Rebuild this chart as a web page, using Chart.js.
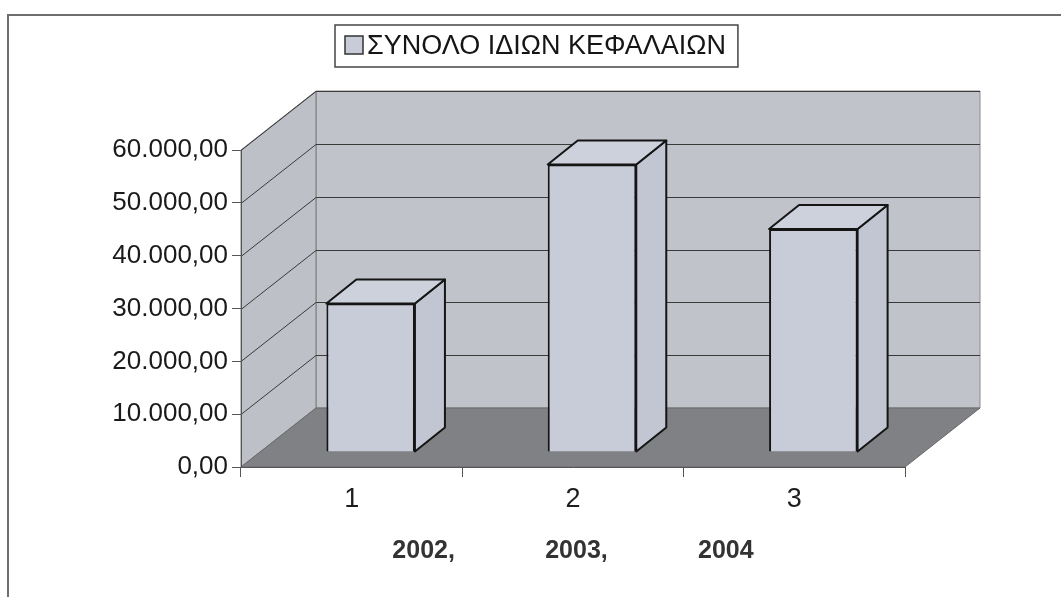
<!DOCTYPE html>
<html>
<head>
<meta charset="utf-8">
<script src="https://cdn.jsdelivr.net/npm/chart.js@4"></script>
<style>
html, body { margin: 0; padding: 0; background: #fff; }
</style>
</head>
<body>
<canvas id="chart" width="1061" height="597"></canvas>
<script>
// data
var categories = ['1', '2', '3'];
var values = [28100, 54400, 42200];
var yearLabels = ['2002,', '2003,', '2004'];
var seriesName = 'ΣΥΝΟΛΟ ΙΔΙΩΝ ΚΕΦΑΛΑΙΩΝ';

var FONT = "'Liberation Sans', Arial, sans-serif";
var DEPTH = { x: 75, y: -59 };       // depth of walls / floor
var BAR_SHIFT = { x: 19, y: -15 };   // bars sit a bit back on the floor
var BAR_DEPTH = { x: 30, y: -24 };

// 60.000,00 style
function fmt(v) {
    return Math.round(v).toString().replace(/\B(?=(\d{3})+(?!\d))/g, '.') + ',00';
}

function poly(ctx, pts, fill, stroke, lw) {
    ctx.beginPath();
    ctx.moveTo(pts[0][0], pts[0][1]);
    for (var i = 1; i < pts.length; i++) ctx.lineTo(pts[i][0], pts[i][1]);
    ctx.closePath();
    if (fill) { ctx.fillStyle = fill; ctx.fill(); }
    if (stroke) { ctx.strokeStyle = stroke; ctx.lineWidth = lw || 1; ctx.stroke(); }
}

var threeD = {
    id: 'threeD',
    beforeDraw: function (chart) {
        var ctx = chart.ctx, a = chart.chartArea, y = chart.scales.y;
        var top = y.getPixelForValue(y.max), bot = y.getPixelForValue(0);
        ctx.save();
        ctx.fillStyle = '#fff';
        ctx.fillRect(0, 0, chart.width, chart.height);

        // frame of the picture
        ctx.strokeStyle = '#6e6e6e';
        ctx.lineWidth = 2;
        ctx.beginPath();
        ctx.moveTo(8, chart.height);
        ctx.lineTo(8, 15);
        ctx.lineTo(chart.width, 15);
        ctx.stroke();

        // back wall
        poly(ctx, [[a.left + DEPTH.x, top + DEPTH.y], [a.right + DEPTH.x, top + DEPTH.y],
                   [a.right + DEPTH.x, bot + DEPTH.y], [a.left + DEPTH.x, bot + DEPTH.y]], '#c0c3ca', '#8a8a8a', 1);
        // side wall
        poly(ctx, [[a.left, top], [a.left + DEPTH.x, top + DEPTH.y],
                   [a.left + DEPTH.x, bot + DEPTH.y], [a.left, bot]], '#bdc0c7', '#7a7a7a', 1);
        // floor
        poly(ctx, [[a.left, bot], [a.left + DEPTH.x, bot + DEPTH.y],
                   [a.right + DEPTH.x, bot + DEPTH.y], [a.right, bot]], '#808184', '#6a6a6a', 1);

        // grid lines on side and back wall
        ctx.strokeStyle = '#3a3a3a';
        ctx.lineWidth = 1;
        y.ticks.forEach(function (t) {
            if (t.value === 0) return;
            var py = Math.round(y.getPixelForValue(t.value)) + 0.5;
            ctx.beginPath();
            ctx.moveTo(a.left, py);
            ctx.lineTo(a.left + DEPTH.x, py + DEPTH.y);
            ctx.lineTo(a.right + DEPTH.x, py + DEPTH.y);
            ctx.stroke();
        });
        ctx.restore();
    },
    beforeDatasetsDraw: function (chart) {
        chart.ctx.save();
        chart.ctx.translate(BAR_SHIFT.x, BAR_SHIFT.y);
    },
    afterDatasetsDraw: function (chart) {
        var ctx = chart.ctx;
        ctx.lineJoin = 'round';
        chart.getDatasetMeta(0).data.forEach(function (bar) {
            var p = bar.getProps(['x', 'y', 'base', 'width'], true);
            var l = p.x - p.width / 2, r = p.x + p.width / 2, t = p.y, b = p.base;
            // right side
            poly(ctx, [[r, t], [r + BAR_DEPTH.x, t + BAR_DEPTH.y], [r + BAR_DEPTH.x, b + BAR_DEPTH.y], [r, b]],
                 '#c2c6d2', '#151515', 2);
            // top
            poly(ctx, [[l, t], [l + BAR_DEPTH.x, t + BAR_DEPTH.y], [r + BAR_DEPTH.x, t + BAR_DEPTH.y], [r, t]],
                 '#cdd1dc', '#151515', 2);
        });
        ctx.restore();
    },
    afterDraw: function (chart) {
        // legend box
        var ctx = chart.ctx;
        var ds = chart.data.datasets[0];
        ctx.save();
        ctx.font = '27px ' + FONT;
        var tw = ctx.measureText(ds.label).width;
        var bx = 335, by = 25, bh = 42, bw = tw + 44;
        ctx.fillStyle = '#fff';
        ctx.fillRect(bx, by, bw, bh);
        ctx.strokeStyle = '#444';
        ctx.lineWidth = 1.5;
        ctx.strokeRect(bx, by, bw, bh);
        ctx.fillStyle = ds.backgroundColor;
        ctx.fillRect(bx + 10, by + 11, 18, 18);
        ctx.strokeStyle = '#333';
        ctx.lineWidth = 1.5;
        ctx.strokeRect(bx + 10, by + 11, 18, 18);
        ctx.fillStyle = '#151515';
        ctx.textBaseline = 'middle';
        ctx.fillText(ds.label, bx + 32, by + bh / 2 + 1);
        ctx.restore();
    }
};

new Chart(document.getElementById('chart'), {
    type: 'bar',
    data: {
        labels: categories,
        datasets: [{
            label: seriesName,
            data: values,
            backgroundColor: '#c8ccd8',
            borderColor: '#151515',
            borderWidth: 2,
            barPercentage: 0.4,
            categoryPercentage: 1.0,
            clip: false
        }]
    },
    options: {
        responsive: false,
        animation: false,
        layout: { padding: { top: 150, right: 156, left: 0, bottom: 0 } },
        plugins: { legend: { display: false }, tooltip: { enabled: false } },
        scales: {
            x: {
                ticks: { font: { family: FONT, size: 27 }, color: '#1e1e1e', padding: 6 },
                grid: { offset: true, drawOnChartArea: false, tickLength: 10, color: '#555' },
                border: { display: true, color: '#555' },
                title: {
                    display: true,
                    text: yearLabels.join('             '),
                    font: { family: FONT, size: 25, weight: 'bold' },
                    color: '#333',
                    padding: { top: 0, bottom: 31 }
                },
                afterFit: function (s) { s.height = 130; }
            },
            y: {
                min: 0,
                max: 60000,
                ticks: { stepSize: 10000, callback: fmt, font: { family: FONT, size: 26 }, color: '#1a1a1a', padding: 4 },
                grid: { drawOnChartArea: false, tickLength: 9, color: '#555' },
                border: { display: true, color: '#555' },
                afterFit: function (s) { s.width = 241; }
            }
        }
    },
    plugins: [threeD]
});
</script>
</body>
</html>
